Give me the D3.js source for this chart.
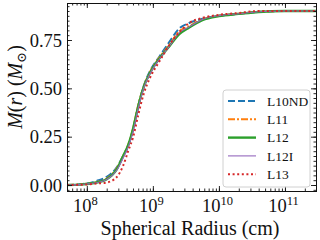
<!DOCTYPE html>
<html>
<head>
<meta charset="utf-8">
<title>M(r) vs radius</title>
<script src="https://cdnjs.cloudflare.com/ajax/libs/d3/7.8.5/d3.min.js"></script>
<style>
body { margin: 0; background: white; }
svg text { font-family: "Liberation Serif", "DejaVu Serif", serif; fill: #111; }
.tick-label { font-size: 18.5px; }
.axis-title { font-size: 20px; }
.legend text { font-size: 13.5px; }
</style>
</head>
<body>
<div id="chart"></div>
<script>
// radius grid (cm), shared by every model
var radius = [5.0e7, 7.9e7, 1.0e8, 1.41e8, 2.0e8, 2.82e8, 3.55e8, 4.27e8, 5.0e8, 6.03e8,
              7.24e8, 8.91e8, 1.26e9, 1.78e9, 2.51e9, 3.55e9, 5.62e9, 1.0e10, 2.0e10,
              4.0e10, 1.0e11, 2.95e11];

// enclosed mass M(r) in solar masses
var massL10ND = [0.000, 0.004, 0.008, 0.021, 0.042, 0.090, 0.150, 0.205, 0.285, 0.410, 0.510,
                 0.585, 0.665, 0.740, 0.810, 0.838, 0.860, 0.875, 0.885, 0.895, 0.900, 0.900];
var massL11   = [0.000, 0.003, 0.006, 0.015, 0.033, 0.085, 0.150, 0.212, 0.290, 0.415, 0.508,
                 0.580, 0.660, 0.725, 0.795, 0.822, 0.857, 0.876, 0.886, 0.896, 0.900, 0.900];
var massL12   = [0.000, 0.002, 0.005, 0.013, 0.030, 0.080, 0.150, 0.210, 0.290, 0.410, 0.505,
                 0.575, 0.655, 0.718, 0.780, 0.815, 0.853, 0.874, 0.885, 0.895, 0.900, 0.900];
var massL12I  = [0.000, 0.002, 0.005, 0.012, 0.028, 0.075, 0.140, 0.200, 0.275, 0.400, 0.500,
                 0.572, 0.652, 0.718, 0.788, 0.818, 0.856, 0.876, 0.886, 0.896, 0.900, 0.900];
var massL13   = [0.000, 0.001, 0.003, 0.008, 0.013, 0.040, 0.100, 0.180, 0.245, 0.365, 0.470,
                 0.550, 0.640, 0.725, 0.790, 0.838, 0.864, 0.880, 0.890, 0.900, 0.900, 0.900];

var seriesNames = ["L10ND", "L11", "L12", "L12I", "L13"];
var seriesMass = [massL10ND, massL11, massL12, massL12I, massL13];

var xMajorTicks = [1e8, 1e9, 1e10, 1e11];
var xTickExp = ["8", "9", "10", "11"];
var yMajorTicks = [0, 0.25, 0.5, 0.75];
var yTickLabels = ["0.00", "0.25", "0.50", "0.75"];

var styles = [
  {color: "#1f77b4", width: 2, dash: "7,3"},
  {color: "#ff7f0e", width: 2, dash: "7,2,2,2"},
  {color: "#2ca02c", width: 2.4, dash: null},
  {color: "#9467bd", width: 1.1, dash: null},
  {color: "#d62728", width: 2, dash: "2,2.6"}
];

var W = 320, H = 240;
var mLeft = 67, mRight = 316, mTop = 3, mBottom = 191;

var svg = d3.select("#chart").append("svg")
  .attr("width", W).attr("height", H);

var x = d3.scaleLog().domain([Math.pow(10, 7.70), Math.pow(10, 11.47)]).range([mLeft, mRight]);
var y = d3.scaleLinear().domain([-0.031, 0.9414]).range([mBottom, mTop]);

svg.append("clipPath").attr("id", "clip").append("rect")
  .attr("x", mLeft).attr("y", mTop).attr("width", mRight - mLeft).attr("height", mBottom - mTop);

var line = d3.line()
  .x(d => x(d[0]))
  .y(d => y(d[1]))
  .curve(d3.curveMonotoneX);

var plot = svg.append("g").attr("clip-path", "url(#clip)");
seriesMass.forEach(function (m, i) {
  var pts = radius.map((r, j) => [r, m[j]]);
  plot.append("path")
    .attr("d", line(pts))
    .attr("fill", "none")
    .attr("stroke", styles[i].color)
    .attr("stroke-width", styles[i].width)
    .attr("stroke-dasharray", styles[i].dash);
});

// axes, ticks inward on all four sides
var bAxis = d3.axisBottom(x).tickValues(xMajorTicks).tickSize(-5).tickFormat("");
var bMinor = d3.axisBottom(x).ticks(40).tickSize(-2.5).tickFormat("");
var tAxis = d3.axisTop(x).tickValues(xMajorTicks).tickSize(-5).tickFormat("");
var tMinor = d3.axisTop(x).ticks(40).tickSize(-2.5).tickFormat("");

var yMinorVals = d3.range(-0.025, 0.94, 0.025).map(v => Math.round(v * 1000) / 1000);
var lAxis = d3.axisLeft(y).tickValues(yMajorTicks).tickSize(-5).tickFormat("");
var lMinor = d3.axisLeft(y).tickValues(yMinorVals).tickSize(-2.5).tickFormat("");
var rAxis = d3.axisRight(y).tickValues(yMajorTicks).tickSize(-5).tickFormat("");
var rMinor = d3.axisRight(y).tickValues(yMinorVals).tickSize(-2.5).tickFormat("");

function drawAxis(ax, tr) {
  var g = svg.append("g").attr("transform", tr).call(ax);
  g.select(".domain").attr("stroke", "#111").attr("stroke-width", 1);
  g.selectAll(".tick line").attr("stroke", "#111").attr("stroke-width", 0.9);
  return g;
}
drawAxis(bMinor, "translate(0," + mBottom + ")");
drawAxis(bAxis, "translate(0," + mBottom + ")");
drawAxis(tMinor, "translate(0," + mTop + ")");
drawAxis(tAxis, "translate(0," + mTop + ")");
drawAxis(lMinor, "translate(" + mLeft + ",0)");
drawAxis(lAxis, "translate(" + mLeft + ",0)");
drawAxis(rMinor, "translate(" + mRight + ",0)");
drawAxis(rAxis, "translate(" + mRight + ",0)");

// y tick labels
yMajorTicks.forEach(function (v, i) {
  svg.append("text")
    .attr("class", "tick-label")
    .attr("x", mLeft - 5)
    .attr("y", y(v) + 6.5)
    .attr("text-anchor", "end")
    .text(yTickLabels[i]);
});

// x tick labels 10^n
xMajorTicks.forEach(function (v, i) {
  var t = svg.append("text")
    .attr("class", "tick-label")
    .attr("x", x(v) - 1.5)
    .attr("y", 212)
    .attr("text-anchor", "middle");
  t.append("tspan").text("10");
  t.append("tspan").attr("dy", -7).style("font-size", "12.5px").text(xTickExp[i]);
});

// axis titles
svg.append("text")
  .attr("class", "axis-title")
  .attr("x", 190)
  .attr("y", 235)
  .attr("text-anchor", "middle")
  .text("Spherical Radius (cm)");

var yl = svg.append("text")
  .attr("class", "axis-title")
  .attr("transform", "translate(22,87) rotate(-90)")
  .attr("text-anchor", "middle");
yl.append("tspan").style("font-style", "italic").text("M");
yl.append("tspan").text("(");
yl.append("tspan").style("font-style", "italic").text("r");
yl.append("tspan").text(") (");
yl.append("tspan").style("font-style", "italic").text("M");
yl.append("tspan").attr("dy", 4).style("font-size", "13px").text("\u2299");
yl.append("tspan").attr("dy", -4).text(")");

// legend
var lg = svg.append("g").attr("class", "legend");
lg.append("rect")
  .attr("x", 223).attr("y", 90).attr("width", 87).attr("height", 97)
  .attr("rx", 3)
  .attr("fill", "white").attr("fill-opacity", 0.85)
  .attr("stroke", "#d0d0d0").attr("stroke-width", 1);

seriesNames.forEach(function (name, i) {
  var cy = 101 + i * 18.3;
  lg.append("line")
    .attr("x1", 228).attr("x2", 256)
    .attr("y1", cy).attr("y2", cy)
    .attr("stroke", styles[i].color)
    .attr("stroke-width", styles[i].width)
    .attr("stroke-dasharray", styles[i].dash);
  lg.append("text")
    .attr("x", 267).attr("y", cy + 4.8)
    .text(name);
});
</script>
</body>
</html>
